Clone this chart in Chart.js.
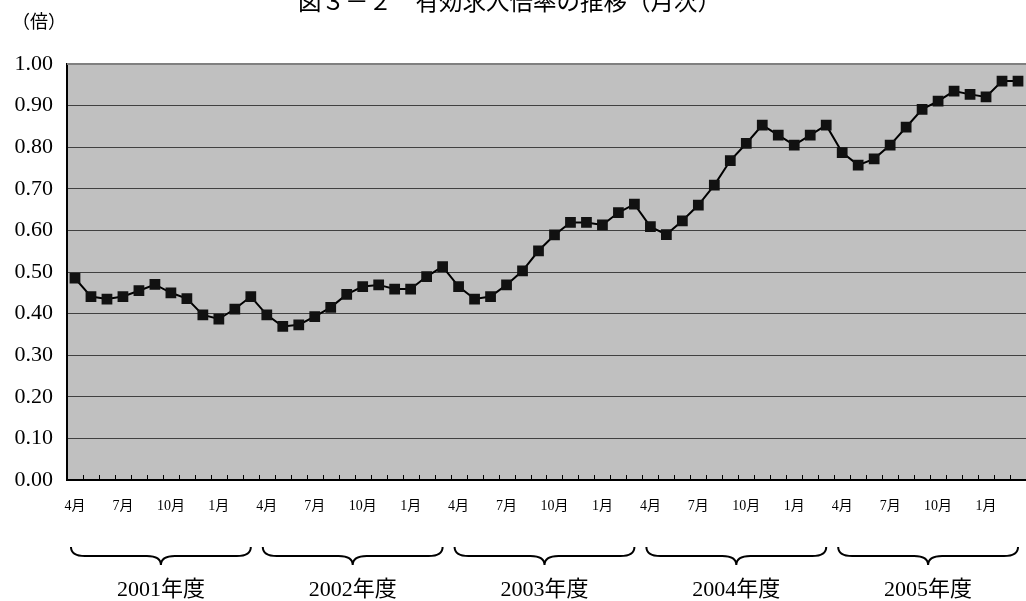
<!DOCTYPE html>
<html>
<head>
<meta charset="utf-8">
<script src="https://cdn.jsdelivr.net/npm/chart.js@4"></script>
<style>
    html, body { margin: 0; padding: 0; background: #fff; overflow: hidden; }
    #wrap { position: absolute; left: 0; top: 0; width: 1026px; height: 601px; }
    #wrap canvas { display: block; }
</style>
</head>
<body>
<div id="wrap"><canvas id="ratio-chart"></canvas></div>
<script>
const fiscalYears = ['2001', '2002', '2003', '2004', '2005'];
const monthNames = ['4月', '5月', '6月', '7月', '8月', '9月', '10月', '11月', '12月', '1月', '2月', '3月'];
const shownMonths = ['4月', '7月', '10月', '1月'];

// 有効求人倍率 (倍), 2001年4月 - 2006年3月
const ratio2001 = [0.485, 0.441, 0.435, 0.441, 0.455, 0.470, 0.450, 0.436, 0.397, 0.387, 0.411, 0.441];
const ratio2002 = [0.397, 0.369, 0.373, 0.393, 0.415, 0.446, 0.465, 0.469, 0.459, 0.459, 0.489, 0.513];
const ratio2003 = [0.465, 0.435, 0.441, 0.469, 0.503, 0.551, 0.589, 0.619, 0.619, 0.613, 0.643, 0.663];
const ratio2004 = [0.609, 0.590, 0.623, 0.661, 0.709, 0.768, 0.809, 0.853, 0.829, 0.805, 0.829, 0.853];
const ratio2005 = [0.787, 0.757, 0.772, 0.805, 0.848, 0.891, 0.911, 0.935, 0.927, 0.921, 0.959, 0.959];

const yTicks = [0, 0.1, 0.2, 0.3, 0.4, 0.5, 0.6, 0.7, 0.8, 0.9, 1.0];

const titleText = '図３－２　有効求人倍率の推移（月次）';
const unitText = '（倍）';

const SERIF = '"Liberation Serif", "Noto Sans CJK JP", serif';
const GOTHIC = '"Noto Sans CJK JP", sans-serif';

(function () {
    const categories = [];
    fiscalYears.forEach((fy) => {
        monthNames.forEach((m) => categories.push(fy + '-' + m));
    });
    const values = [].concat(ratio2001, ratio2002, ratio2003, ratio2004, ratio2005);

    const decorations = {
        id: 'decorations',
        beforeDraw(chart) {
            const { ctx, chartArea } = chart;
            ctx.save();
            ctx.fillStyle = '#c0c0c0';
            ctx.fillRect(chartArea.left, chartArea.top, chartArea.right - chartArea.left, chartArea.bottom - chartArea.top);
            ctx.restore();
        },
        beforeDatasetsDraw(chart) {
            const { ctx, chartArea } = chart;
            const x = chart.scales.x;
            ctx.save();
            // top border of plot
            ctx.strokeStyle = '#808080';
            ctx.lineWidth = 2;
            ctx.beginPath();
            ctx.moveTo(chartArea.left, chartArea.top);
            ctx.lineTo(chartArea.right, chartArea.top);
            ctx.stroke();
            // small inward ticks between months
            ctx.strokeStyle = '#000';
            ctx.lineWidth = 1;
            const step = x.getPixelForValue(1) - x.getPixelForValue(0);
            for (let i = 0; i <= categories.length; i++) {
                const px = Math.round(x.getPixelForValue(i) - step / 2) + 0.5;
                ctx.beginPath();
                ctx.moveTo(px, chartArea.bottom);
                ctx.lineTo(px, chartArea.bottom - 5);
                ctx.stroke();
            }
            ctx.restore();
        },
        afterDraw(chart) {
            const { ctx } = chart;
            const x = chart.scales.x;
            ctx.save();
            // title (cut at the top edge as in the source)
            ctx.fillStyle = '#000';
            ctx.font = '23.5px ' + GOTHIC;
            ctx.textAlign = 'left';
            ctx.textBaseline = 'middle';
            ctx.fillText(titleText, 298, 1);
            // unit
            ctx.font = '18px ' + SERIF;
            ctx.fillText(unitText, 12, 23);

            // braces and fiscal year labels
            const top = 547, mid = 556, tip = 565;
            ctx.strokeStyle = '#000';
            ctx.lineWidth = 2;
            fiscalYears.forEach((fy, i) => {
                const x1 = x.getPixelForValue(i * 12) - 4;
                const x2 = x.getPixelForValue(i * 12 + 11);
                const cx = (x1 + x2) / 2;
                ctx.beginPath();
                ctx.moveTo(x1, top);
                ctx.quadraticCurveTo(x1, mid, x1 + 14, mid);
                ctx.lineTo(cx - 14, mid);
                ctx.quadraticCurveTo(cx, mid, cx, tip);
                ctx.quadraticCurveTo(cx, mid, cx + 14, mid);
                ctx.lineTo(x2 - 14, mid);
                ctx.quadraticCurveTo(x2, mid, x2, top);
                ctx.stroke();

                ctx.font = '22px ' + SERIF;
                ctx.textAlign = 'center';
                ctx.textBaseline = 'middle';
                ctx.fillText(fy + '年度', cx, 590);
            });
            ctx.restore();
        }
    };

    new Chart(document.getElementById('ratio-chart').getContext('2d'), {
        type: 'line',
        data: {
            labels: categories,
            datasets: [{
                label: '有効求人倍率',
                data: values,
                borderColor: '#000',
                borderWidth: 2,
                tension: 0,
                pointStyle: 'rect',
                pointRadius: 7.6,
                pointBackgroundColor: '#111',
                pointBorderColor: '#111',
                pointBorderWidth: 0,
                pointHoverRadius: 7.6
            }]
        },
        options: {
            responsive: true,
            maintainAspectRatio: false,
            animation: false,
            events: [],
            layout: { autoPadding: false, padding: { top: 64, right: 0, left: 0, bottom: 0 } },
            plugins: {
                legend: { display: false },
                tooltip: { enabled: false }
            },
            scales: {
                x: {
                    type: 'category',
                    offset: true,
                    afterFit: (scale) => {
                        scale.height = 121;
                        scale.paddingLeft = 0;
                        scale.paddingRight = 0;
                    },
                    grid: { display: false, drawTicks: false },
                    border: { display: true, color: '#000', width: 2 },
                    ticks: {
                        autoSkip: false,
                        maxRotation: 0,
                        padding: 18,
                        color: '#000',
                        font: { family: SERIF, size: 14 },
                        callback: (value, index) => {
                            const m = monthNames[index % 12];
                            return shownMonths.includes(m) ? m : '';
                        }
                    }
                },
                y: {
                    min: 0,
                    max: 1,
                    afterFit: (scale) => { scale.width = 67; },
                    afterBuildTicks: (scale) => { scale.ticks = yTicks.map((v) => ({ value: v })); },
                    grid: { color: '#404040', lineWidth: 1, drawTicks: false },
                    border: { display: true, color: '#000', width: 2 },
                    ticks: {
                        padding: 14,
                        color: '#000',
                        font: { family: SERIF, size: 22 },
                        callback: (v) => Number(v).toFixed(2)
                    }
                }
            }
        },
        plugins: [decorations]
    });
})();
</script>
</body>
</html>
